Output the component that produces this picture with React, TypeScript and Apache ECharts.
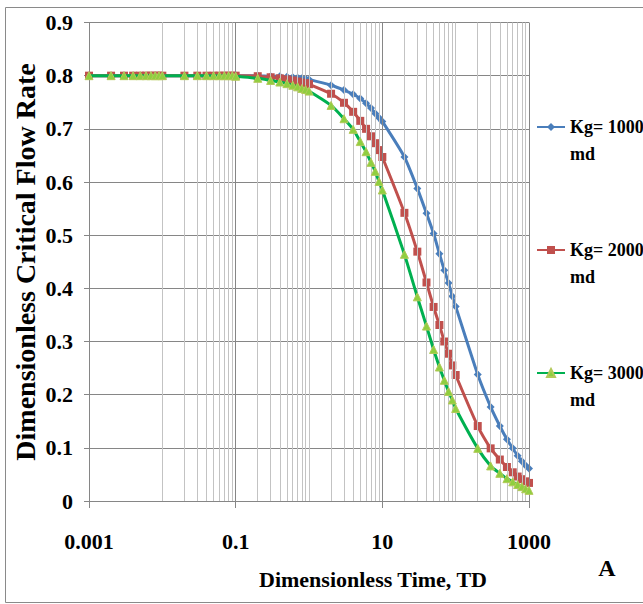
import React, { useEffect, useRef } from "react";
import * as echarts from "echarts";

// Dimensionless time TD (x values shared by all three curves)
const timeValues = [
  0.001, 0.002, 0.003, 0.004, 0.005, 0.006, 0.007, 0.008, 0.009,
  0.01, 0.02, 0.03, 0.04, 0.05, 0.06, 0.07, 0.08, 0.09,
  0.1, 0.2, 0.3, 0.4, 0.5, 0.6, 0.7, 0.8, 0.9,
  1, 2, 3, 4, 5, 6, 7, 8, 9,
  10, 20, 30, 40, 50, 60, 70, 80, 90,
  100, 200, 300, 400, 500, 600, 700, 800, 900,
  1000,
];

// Dimensionless critical flow rate, Kg = 1000 md
const kg1000 = [
  0.8, 0.8, 0.8, 0.8, 0.8, 0.8, 0.8, 0.8, 0.8,
  0.8, 0.8, 0.8, 0.8, 0.8, 0.8, 0.8, 0.8, 0.8,
  0.8, 0.8, 0.799, 0.799, 0.798, 0.797, 0.796, 0.795, 0.794,
  0.793, 0.782, 0.773, 0.765, 0.757, 0.748, 0.739, 0.729, 0.721,
  0.714, 0.647, 0.588, 0.541, 0.503, 0.465, 0.434, 0.41, 0.385,
  0.366, 0.238, 0.177, 0.141, 0.116, 0.099, 0.085, 0.075, 0.067,
  0.061,
];

// Kg = 2000 md
const kg2000 = [
  0.8, 0.8, 0.8, 0.8, 0.8, 0.8, 0.8, 0.8, 0.8,
  0.8, 0.8, 0.8, 0.8, 0.8, 0.8, 0.8, 0.8, 0.8,
  0.8, 0.799, 0.797, 0.795, 0.793, 0.791, 0.789, 0.787, 0.786,
  0.784, 0.766, 0.749, 0.732, 0.715, 0.7, 0.686, 0.673, 0.66,
  0.647, 0.542, 0.469, 0.411, 0.365, 0.331, 0.3, 0.277, 0.255,
  0.237, 0.141, 0.099, 0.078, 0.064, 0.054, 0.046, 0.041, 0.037,
  0.034,
];

// Kg = 3000 md
const kg3000 = [
  0.8, 0.8, 0.8, 0.8, 0.8, 0.8, 0.8, 0.8, 0.8,
  0.8, 0.8, 0.8, 0.8, 0.8, 0.8, 0.8, 0.8, 0.8,
  0.799, 0.795, 0.791, 0.788, 0.785, 0.782, 0.779, 0.776, 0.774,
  0.771, 0.744, 0.719, 0.699, 0.676, 0.657, 0.637, 0.62, 0.601,
  0.585, 0.464, 0.384, 0.329, 0.285, 0.252, 0.227, 0.206, 0.19,
  0.174, 0.099, 0.066, 0.052, 0.042, 0.036, 0.031, 0.027, 0.023,
  0.02,
];

const seriesNames = ["Kg= 1000", "Kg= 2000", "Kg= 3000"];
const unitLabel = "md";
const xTitle = "Dimensionless Time, TD";
const yTitle = "Dimensionless Critical Flow Rate";
const panelLetter = "A";

const decades = [0.001, 0.01, 0.1, 1, 10, 100];
const labelledDecades = [0.001, 0.1, 10, 1000];

const FONT = '"Liberation Serif", "Times New Roman", serif';

export default function App() {
  const ref = useRef<HTMLDivElement>(null);

  useEffect(() => {
    if (!ref.current) return;
    const chart = echarts.init(ref.current, undefined, { renderer: "svg" });

    // light gridlines at every minor log position (and unlabelled decades)
    const minorLines: number[] = [];
    decades.forEach((d) => {
      for (let k = 1; k <= 9; k++) {
        if (k === 1 && labelledDecades.includes(d)) continue;
        minorLines.push(Number((k * d).toPrecision(3)));
      }
    });

    const mk = (arr: number[]) => timeValues.map((t, i) => [t, arr[i]]);
    const isLabelled = (v: number) =>
      labelledDecades.some((d) => Math.abs(Math.log10(v) - Math.log10(d)) < 1e-6);

    const gridLineSeries = (values: number[], color: string) => ({
      type: "line",
      data: [],
      silent: true,
      z: 1,
      markLine: {
        silent: true,
        symbol: ["none", "none"],
        label: { show: false },
        lineStyle: { color, width: 1, type: "solid" },
        emphasis: { disabled: true },
        data: values.map((v) => ({ xAxis: v })),
      },
    });

    chart.setOption({
      animation: false,
      backgroundColor: "#ffffff",
      grid: {
        left: 89,
        top: 22.5,
        width: 440,
        height: 478.5,
        containLabel: false,
        outerBoundsMode: "none",
      },
      legend: {
        data: seriesNames,
        orient: "vertical",
        left: 531,
        top: 81.5,
        itemGap: 42,
        itemWidth: 28,
        itemHeight: 10,
        selectedMode: false,
        formatter: (name: string) => `\n${name}\n${unitLabel}`,
        textStyle: {
          fontFamily: FONT,
          fontSize: 18,
          fontWeight: "bold",
          color: "#000",
          lineHeight: 27,
        },
      },
      xAxis: {
        type: "log",
        logBase: 10,
        min: 0.001,
        max: 1000,
        splitNumber: 6,
        axisLine: { show: true, lineStyle: { color: "#868686", width: 1 } },
        axisTick: {
          show: true,
          customValues: labelledDecades,
          length: 7,
          lineStyle: { color: "#868686" },
        },
        axisLabel: {
          customValues: labelledDecades,
          margin: 29,
          fontFamily: FONT,
          fontSize: 22,
          fontWeight: "bold",
          color: "#000",
          formatter: (v: number) =>
            isLabelled(v) ? String(Number(v.toPrecision(6))) : "",
        },
        splitLine: { show: false },
      },
      yAxis: {
        type: "value",
        min: 0,
        max: 0.9,
        interval: 0.1,
        axisLine: { show: true, lineStyle: { color: "#868686", width: 1 } },
        axisTick: { show: true, length: 5, lineStyle: { color: "#868686" } },
        axisLabel: {
          margin: 16,
          fontFamily: FONT,
          fontSize: 22,
          fontWeight: "bold",
          color: "#000",
          formatter: (v: number) => String(Number(v.toFixed(1))),
        },
        splitLine: { show: true, lineStyle: { color: "#868686", width: 1 } },
      },
      series: [
        gridLineSeries(minorLines, "#c3c3c3"),
        gridLineSeries(labelledDecades, "#868686"),
        {
          name: seriesNames[0],
          type: "line",
          data: mk(kg1000),
          smooth: 0.2,
          symbol: "diamond",
          symbolSize: 8,
          z: 3,
          lineStyle: { color: "#4a7ebb", width: 3 },
          itemStyle: { color: "#4a7ebb" },
        },
        {
          name: seriesNames[1],
          type: "line",
          data: mk(kg2000),
          smooth: 0.2,
          symbol: "rect",
          symbolSize: 8,
          z: 4,
          lineStyle: { color: "#c0504d", width: 3 },
          itemStyle: { color: "#c0504d" },
        },
        {
          name: seriesNames[2],
          type: "line",
          data: mk(kg3000),
          smooth: 0.2,
          symbol: "triangle",
          symbolSize: 8,
          z: 5,
          lineStyle: { color: "#00b050", width: 3 },
          itemStyle: { color: "#8fcf3f", borderColor: "#b3c95a", borderWidth: 1 },
        },
      ],
      graphic: [
        {
          type: "rect",
          silent: true,
          shape: { x: 5.5, y: 7.5, width: 660, height: 595 },
          style: { fill: "none", stroke: "#8a8a8a", lineWidth: 1 },
        },
        {
          type: "text",
          x: 25,
          y: 262,
          rotation: Math.PI / 2,
          style: {
            text: yTitle,
            font: `bold 28px ${FONT}`,
            fill: "#000",
            textAlign: "center",
            textVerticalAlign: "middle",
            align: "center",
            verticalAlign: "middle",
          },
        },
        {
          type: "text",
          x: 373,
          y: 579,
          style: {
            text: xTitle,
            font: `bold 22px ${FONT}`,
            fill: "#000",
            textAlign: "center",
            textVerticalAlign: "middle",
            align: "center",
            verticalAlign: "middle",
          },
        },
        {
          type: "text",
          x: 607,
          y: 568,
          style: {
            text: panelLetter,
            font: `bold 24px ${FONT}`,
            fill: "#000",
            textAlign: "center",
            textVerticalAlign: "middle",
            align: "center",
            verticalAlign: "middle",
          },
        },
      ],
    });

    return () => chart.dispose();
  }, []);

  return (
    <div
      ref={ref}
      style={{
        position: "absolute",
        left: 0,
        top: 0,
        width: 643,
        height: 604,
        background: "#fff",
      }}
    />
  );
}
